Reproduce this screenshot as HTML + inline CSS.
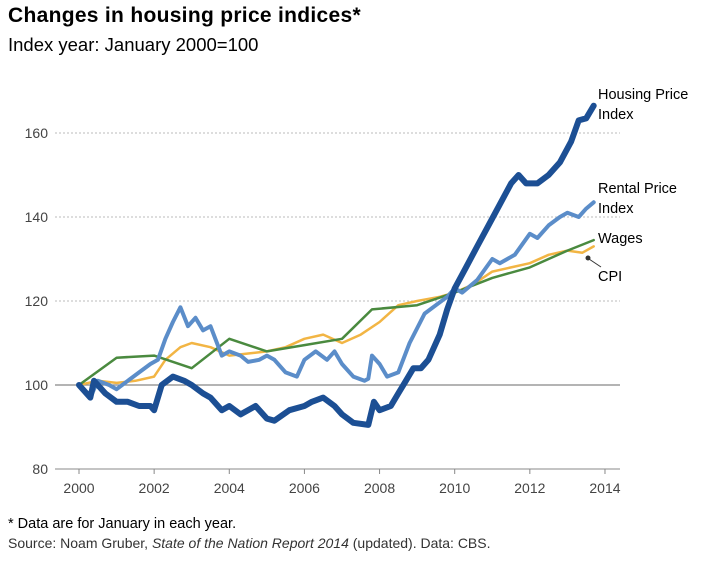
<!DOCTYPE html>
<html><head><meta charset="utf-8"><style>
body{margin:0;background:#fff;font-family:"Liberation Sans",sans-serif;}
#wrap{position:relative;width:705px;height:562px;overflow:hidden;}
.t{position:absolute;color:#000;}
</style></head><body>
<div id="wrap">
<div class="t" style="left:8px;top:4px;font-size:21px;font-weight:bold;letter-spacing:0.3px;">Changes in housing price indices*</div>
<div class="t" style="left:8px;top:34px;font-size:18.5px;">Index year: January 2000=100</div>
<svg id="chart" width="705" height="562" style="position:absolute;left:0;top:0"></svg>
<div class="t" style="left:8px;top:516px;font-size:14.5px;">* Data are for January in each year.</div>
<div class="t" style="left:8px;top:535px;font-size:14px;color:#333;">Source: Noam Gruber, <i>State of the Nation Report 2014</i> (updated). Data: CBS.</div>
</div>
<script>
const yTicks=[80,100,120,140,160];
const xTicks=[2000,2002,2004,2006,2008,2010,2012,2014];
const housingX=[2000,2000.3,2000.4,2000.7,2001,2001.3,2001.6,2001.9,2002,2002.2,2002.5,2002.8,2003,2003.3,2003.5,2003.8,2004,2004.3,2004.7,2005,2005.2,2005.6,2006,2006.2,2006.5,2006.8,2007,2007.3,2007.7,2007.85,2008,2008.3,2008.5,2008.7,2008.9,2009.1,2009.3,2009.6,2009.8,2010,2010.3,2010.6,2010.9,2011.2,2011.5,2011.7,2011.9,2012.2,2012.5,2012.8,2013.1,2013.3,2013.5,2013.7];
const housingV=[100,97,101,98,96,96,95,95,94,100,102,101,100,98,97,94,95,93,95,92,91.5,94,95,96,97,95,93,91,90.5,96,94,95,98,101,104,104,106,112,118,123,128,133,138,143,148,150,148,148,150,153,158,163,163.5,166.5];
const rentalX=[2000,2000.3,2000.5,2000.8,2001,2001.3,2001.6,2001.9,2002.1,2002.3,2002.5,2002.7,2002.9,2003.1,2003.3,2003.5,2003.8,2004,2004.3,2004.5,2004.8,2005,2005.2,2005.5,2005.8,2006,2006.3,2006.6,2006.8,2007,2007.3,2007.6,2007.7,2007.8,2008,2008.2,2008.5,2008.8,2009.2,2009.5,2009.8,2010,2010.2,2010.6,2011,2011.2,2011.6,2012,2012.2,2012.5,2012.8,2013,2013.3,2013.5,2013.7];
const rentalV=[100,97,101,100,99,101,103,105,106,111,115,118.5,114,116,113,114,107,108,107,105.5,106,107,106,103,102,106,108,106,108,105,102,101,101.5,107,105,102,103,110,117,119,121,123,122,125,130,129,131,136,135,138,140,141,140,142,143.5];
const cpiX=[2000,2000.5,2001,2001.5,2002,2002.3,2002.7,2003,2003.5,2004,2004.5,2005,2005.5,2006,2006.5,2007,2007.5,2008,2008.5,2009,2009.6,2010,2010.5,2011,2011.5,2012,2012.5,2013,2013.4,2013.7];
const cpiV=[100,101,100.5,101,102,106,109,110,109,107,107.5,108,109,111,112,110,112,115,119,120,121,122,124,127,128,129,131,132,131.5,133];
const wagesX=[2000,2001,2002,2003,2004,2005,2006,2007,2007.8,2009,2010,2011,2012,2013,2013.7];
const wagesV=[100,106.5,107,104,111,108,109.5,111,118,119,122,125.5,128,132,134.5];
const NS="http://www.w3.org/2000/svg";
const svg=document.getElementById('chart');
const xs=y=>79+(y-2000)*37.57;
const ys=v=>385-(v-100)*4.2;
function mk(t,a){const e=document.createElementNS(NS,t);for(const k in a)e.setAttribute(k,a[k]);svg.appendChild(e);return e;}
yTicks.forEach(v=>{
 if(v!==80&&v!==100){const g=mk('line',{x1:55,x2:620,y1:ys(v),y2:ys(v),stroke:'#bbb','stroke-dasharray':'2,2'});
 
 }
 const t=mk('text',{x:48,y:ys(v)+5,'text-anchor':'end','font-size':14,fill:'#444','font-family':'Liberation Sans'});t.textContent=v;
 
 
});
const base=mk('line',{x1:55,x2:620,y1:ys(100),y2:ys(100),stroke:'#888','stroke-width':1.2});


const xa=mk('line',{x1:55,x2:620,y1:ys(80),y2:ys(80),stroke:'#888','stroke-width':1});


xTicks.forEach(y=>{
 const tk=mk('line',{x1:xs(y),x2:xs(y),y1:ys(80),y2:ys(80)+5,stroke:'#888'});
 
 
 const t=mk('text',{x:xs(y),y:ys(80)+24,'text-anchor':'middle','font-size':14,fill:'#444','font-family':'Liberation Sans'});t.textContent=y;
 
 
});
function line(X,V,color,w,name){
 const d=X.map((x,i)=>(i?'L':'M')+xs(x).toFixed(1)+','+ys(V[i]).toFixed(1)).join('');
 const p=mk('path',{d:d,fill:'none',stroke:color,'stroke-width':w,'stroke-linejoin':'round','stroke-linecap':'round'});
 
 
}
line(cpiX,cpiV,'#f2b544',2.5,'cpi-line');
line(wagesX,wagesV,'#4a8a3f',2.5,'wages-line');
line(rentalX,rentalV,'#5b8dc9',4,'rental-price-line');
line(housingX,housingV,'#1c4f94',6,'housing-price-line');
const lab=[['Housing Price',598,99,'housing-label-1'],['Index',598,119,'housing-label-2'],['Rental Price',598,193,'rental-label-1'],['Index',598,213,'rental-label-2'],['Wages',598,243,'wages-label'],['CPI',598,281,'cpi-label']];
lab.forEach(l=>{const t=mk('text',{x:l[1],y:l[2],'font-size':14.5,fill:'#000','font-family':'Liberation Sans'});t.textContent=l[0];
 
 });
const c=mk('circle',{cx:588,cy:258,r:2.5,fill:'#333'});


const cl=mk('line',{x1:589,y1:259,x2:601,y2:267,stroke:'#333'});


</script>
</body></html>
